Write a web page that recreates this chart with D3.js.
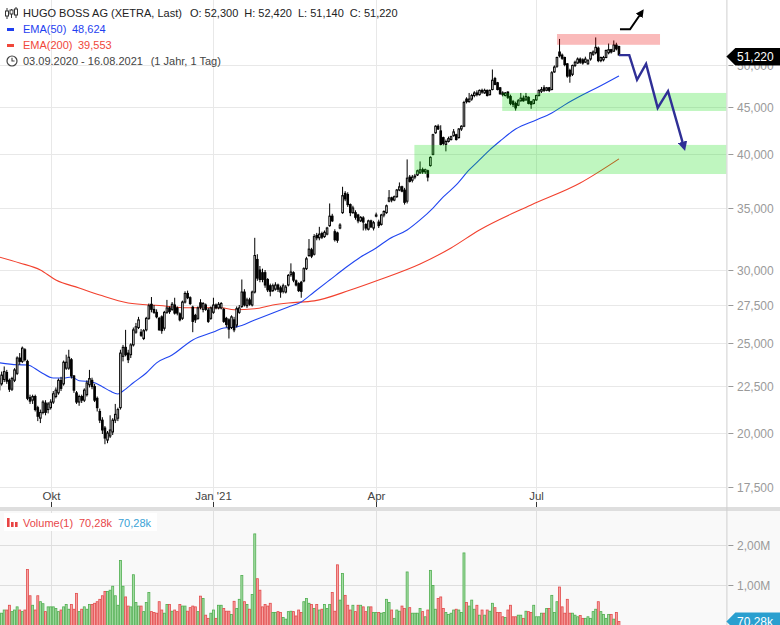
<!DOCTYPE html>
<html><head><meta charset="utf-8">
<script src="https://cdn.jsdelivr.net/npm/d3@7"></script>
<style>body{margin:0;background:#fff;overflow:hidden}svg{display:block;font-family:"Liberation Sans",Arial,sans-serif}</style>
</head><body><svg id="c" width="780" height="625"></svg>
<script>
// ---------- DATA ----------
const opens=[
22.26,22.60,22.85,23.25,22.80,22.30,22.80,23.20,24.10,23.90,
24.60,23.90,21.85,21.70,21.90,21.30,20.75,21.05,21.55,21.20,
21.30,21.60,21.90,22.10,22.80,22.60,23.50,23.50,24.00,23.05,
22.10,21.60,21.90,21.70,22.00,22.55,22.80,22.45,21.80,21.10,
20.65,20.25,19.65,19.85,20.05,20.65,20.75,21.30,24.20,24.75,
24.40,24.30,24.90,25.70,26.00,25.70,25.30,25.85,26.60,27.55,
27.20,27.00,26.60,26.70,25.95,27.00,27.30,27.20,27.50,27.30,
26.90,26.60,27.70,28.30,28.00,27.35,26.80,26.60,27.65,27.20,
27.50,27.15,26.60,27.00,27.50,27.30,27.30,27.20,26.60,26.50,
26.00,26.50,26.15,27.00,27.40,28.40,27.45,27.85,27.50,28.40,
30.80,30.00,29.80,29.80,29.30,28.85,28.50,28.60,28.90,28.70,
28.45,28.40,28.90,29.65,29.80,29.20,29.00,29.10,29.20,30.10,
31.10,31.55,31.20,32.70,32.50,32.85,32.60,32.80,33.50,34.30,
33.00,32.90,33.30,34.60,36.30,36.20,35.30,34.60,34.60,34.40,
33.90,34.15,33.60,33.20,33.90,33.30,34.30,33.80,33.60,34.40,
34.60,35.60,35.90,35.70,36.00,36.60,36.90,36.60,35.60,37.80,
37.50,37.80,38.00,38.20,38.50,38.30,38.40,38.90,40.00,42.20,
42.90,42.40,41.70,41.00,41.30,41.50,41.90,42.00,41.70,42.60,
42.90,45.90,45.60,45.90,46.30,46.60,46.40,46.90,46.60,46.90,
46.40,47.00,48.30,47.80,47.20,46.60,46.30,46.70,46.20,45.60,
45.40,45.20,45.70,46.00,45.80,46.10,45.60,45.40,45.80,46.30,
46.80,47.20,46.90,47.20,47.00,49.10,49.80,51.60,51.20,50.90,
50.10,49.30,48.80,49.90,50.20,50.70,50.60,50.30,50.10,50.70,
51.30,51.50,52.10,50.50,50.60,50.90,51.50,51.90,51.70,52.50,52.30];
const highs=[
23.00,23.30,23.60,23.40,22.90,23.00,23.50,24.20,24.40,24.80,
24.70,24.00,22.00,22.00,22.00,21.40,21.20,21.70,21.70,21.60,
21.75,22.20,22.40,22.90,23.00,23.95,24.30,24.60,24.10,23.10,
22.20,22.00,22.00,22.35,22.80,23.40,22.95,22.60,21.90,21.25,
20.80,20.35,20.10,20.90,20.75,21.50,21.30,24.60,24.90,25.85,
24.60,25.00,26.00,26.30,26.70,25.90,25.90,26.70,27.60,28.05,
27.50,27.20,26.70,26.80,27.10,27.85,27.40,27.70,28.00,27.40,
27.00,27.80,28.45,28.50,28.10,27.45,26.90,27.40,27.90,27.70,
27.60,27.30,27.40,28.00,27.60,27.70,27.70,27.30,26.70,26.60,
26.80,26.70,27.40,27.50,29.30,28.60,28.00,28.00,28.50,32.50,
31.20,30.30,30.10,30.00,29.40,29.00,29.00,29.10,29.00,28.85,
29.00,28.90,29.70,30.50,29.90,29.30,29.10,29.20,30.20,31.00,
32.40,31.70,32.80,32.90,33.40,33.00,33.10,33.40,35.40,34.50,
33.20,33.00,33.70,36.90,36.50,36.40,35.40,35.20,34.80,34.50,
34.30,34.30,33.70,34.00,34.00,33.90,34.60,34.00,34.50,34.80,
35.30,36.60,36.00,36.10,36.70,37.30,37.00,36.80,39.50,38.00,
38.00,38.10,38.50,39.30,38.70,38.60,38.50,39.80,42.10,43.00,
43.10,43.00,41.80,41.50,41.80,41.90,42.60,42.10,42.70,43.00,
45.70,46.10,46.60,46.50,46.80,46.90,47.00,47.10,47.10,47.00,
47.00,49.40,48.50,47.90,47.30,46.80,46.70,46.80,46.40,45.80,
45.60,45.90,46.60,46.30,46.60,46.20,45.70,45.90,46.40,47.00,
47.30,47.50,47.30,47.30,49.20,49.90,51.00,53.30,51.40,51.00,
50.20,49.50,50.00,50.50,50.90,50.90,50.80,51.00,50.70,51.60,
51.80,53.50,52.30,51.00,51.10,51.90,52.70,52.00,53.10,52.80,52.42];
const lows=[
22.10,22.50,22.70,22.60,22.15,22.20,22.70,23.10,23.70,23.80,
23.90,21.70,21.50,21.50,21.10,20.60,20.50,20.95,20.90,21.00,
21.20,21.50,21.80,22.00,22.20,22.50,23.40,23.40,22.90,22.10,
21.50,21.40,21.55,21.60,21.90,22.40,22.30,21.60,21.10,20.50,
19.95,19.45,19.50,19.75,19.90,20.50,20.60,21.20,23.90,24.20,
23.80,24.10,24.80,25.60,25.90,25.40,25.20,25.75,26.50,27.00,
26.90,26.60,25.80,25.60,25.80,26.90,26.90,27.10,26.85,26.80,
26.40,26.50,27.60,27.90,27.50,25.70,26.30,26.50,27.20,27.00,
27.10,26.30,26.50,26.90,27.20,27.20,27.20,26.30,26.00,25.30,
25.90,25.70,26.00,26.90,27.30,27.40,27.30,27.45,27.40,28.30,
29.20,29.10,29.10,28.70,28.40,28.10,28.40,28.50,28.40,28.00,
28.30,28.30,28.80,29.50,29.10,28.80,28.40,28.00,29.10,30.00,
31.00,30.90,31.10,32.30,32.30,32.40,32.50,32.70,33.40,33.80,
32.20,32.10,33.20,34.50,35.60,35.10,34.30,34.50,34.00,33.70,
33.80,33.10,33.10,33.10,33.30,33.10,34.20,33.30,33.50,34.20,
34.50,35.50,35.50,35.60,35.90,36.50,36.40,35.30,35.40,37.30,
37.30,37.60,37.90,38.10,38.10,38.10,37.40,38.80,39.90,42.10,
42.50,40.90,40.90,40.30,41.20,41.40,41.80,41.40,41.60,42.40,
42.80,45.40,45.50,45.70,46.10,46.20,46.30,46.50,46.50,46.20,
46.30,46.90,47.50,46.90,46.40,46.20,46.20,45.90,45.20,45.00,
44.60,45.10,45.60,45.60,45.70,45.30,44.80,45.30,45.70,46.20,
46.60,46.70,46.80,46.70,46.90,49.00,49.60,50.90,50.60,49.80,
48.40,47.80,48.60,49.70,50.10,50.10,50.00,50.20,50.00,50.50,
51.10,51.30,50.30,50.30,50.40,50.80,51.30,51.40,51.60,51.80,51.14];
const closes=[
22.90,23.10,23.30,22.75,22.30,22.90,23.40,24.10,23.90,24.70,
24.00,21.80,21.65,21.90,21.20,20.85,21.05,21.60,21.05,21.50,
21.60,22.05,22.25,22.80,22.35,23.85,23.85,24.15,23.05,22.25,
21.60,21.90,21.70,22.25,22.65,22.90,22.45,21.70,21.30,20.65,
20.15,19.75,20.00,20.15,20.65,20.95,21.20,24.40,24.75,24.30,
24.00,24.90,25.85,26.05,26.50,25.50,25.80,26.60,27.45,27.20,
27.00,26.70,25.85,25.80,27.00,27.30,27.05,27.55,26.95,26.95,
26.50,27.70,28.30,28.00,27.60,26.40,26.50,27.30,27.35,27.60,
27.20,26.40,27.30,27.50,27.30,27.55,27.60,26.40,26.20,25.90,
26.70,25.85,27.25,27.30,28.40,27.50,27.85,27.55,28.40,31.10,
29.40,29.30,29.30,28.90,28.55,28.45,28.85,28.90,28.60,28.40,
28.85,28.75,29.60,29.85,29.25,28.90,28.50,28.45,30.10,30.85,
31.60,31.05,32.60,32.50,32.80,32.55,32.95,33.30,34.30,33.90,
32.35,32.30,33.55,36.10,35.80,35.30,34.60,35.00,34.20,33.90,
34.20,33.80,33.30,33.90,33.40,33.75,34.40,33.50,34.40,34.70,
35.20,35.90,35.70,36.00,36.60,36.90,36.50,35.50,37.70,37.40,
37.80,37.90,38.40,38.50,38.30,38.50,37.80,39.70,42.00,42.90,
42.60,41.00,41.10,41.30,41.60,41.80,42.30,41.50,42.60,42.90,
45.50,45.60,45.90,46.30,46.60,46.40,46.90,46.70,46.90,46.30,
46.90,48.10,47.60,47.00,46.50,46.40,46.60,46.10,45.40,45.30,
44.90,45.70,46.00,45.70,46.20,45.40,45.30,45.80,46.30,46.90,
47.00,46.90,47.20,46.90,49.00,49.70,50.90,51.10,50.80,50.00,
48.60,48.60,49.90,50.30,50.70,50.30,50.20,50.70,50.50,51.50,
51.60,52.20,50.50,50.90,50.90,51.80,51.90,51.60,52.50,52.00,51.22];
// volume in millions
const volumes=[
0.28,0.28,0.36,0.36,0.48,0.32,0.36,0.44,0.36,0.32,
0.36,1.38,0.72,0.48,0.36,0.72,0.57,0.52,0.32,0.44,
0.44,0.44,0.40,0.32,0.36,0.44,0.50,0.38,0.50,0.38,
0.78,0.32,0.38,0.44,0.38,0.50,0.50,0.53,0.57,0.63,
0.72,0.83,0.83,0.86,0.96,0.72,0.48,1.61,0.96,0.69,
0.46,0.44,1.25,0.55,0.46,0.46,0.32,0.55,0.80,0.32,
0.30,0.28,0.57,0.36,0.28,0.50,0.50,0.33,0.36,0.32,
0.50,0.46,0.46,0.33,0.42,0.46,0.44,0.32,0.71,0.65,
0.23,0.15,0.28,0.36,0.15,0.48,0.48,0.40,0.33,0.33,
0.25,0.58,0.40,0.63,1.23,0.57,0.50,0.38,0.75,2.28,
1.15,0.86,0.44,0.50,0.46,0.53,0.30,0.30,0.32,0.30,
0.17,0.13,0.32,0.33,0.32,0.21,0.36,0.30,0.57,0.65,
0.53,0.50,0.40,0.50,0.36,0.38,0.50,0.40,0.50,0.80,
0.33,1.50,0.61,1.28,0.73,0.48,0.36,0.48,0.32,0.48,
0.48,0.44,0.32,0.44,0.44,0.30,0.30,0.30,0.28,0.30,
0.63,0.55,0.36,0.15,0.36,0.33,0.46,0.40,1.32,0.42,
0.28,0.28,0.28,0.40,0.32,0.19,0.36,1.36,0.98,0.38,
0.65,0.69,0.40,0.30,0.25,0.28,0.36,0.38,0.36,0.30,
1.80,0.55,0.46,0.61,0.38,0.48,0.23,0.36,0.23,0.36,
0.33,0.53,0.42,0.30,0.30,0.19,0.17,0.36,0.48,0.19,
0.19,0.23,0.23,0.15,0.33,0.32,0.30,0.48,0.19,0.19,
0.28,0.28,0.40,0.40,0.73,0.30,0.57,0.94,0.44,0.28,
0.63,0.28,0.28,0.23,0.19,0.22,0.15,0.15,0.19,0.15,
0.32,0.38,0.57,0.32,0.25,0.15,0.25,0.25,0.13,0.30,0.07028];
// EMA readings (trading-day index, value)
const ema50Idx=[0,7,11,16,21,25,28,31,36,40,43,46,48,52,57,61,67,75,83,87,92,99,106,112,117,122,128,134,140,146,151,158,163,168,172,177,182,186,190,194,200,208,214,219,226,232,240];
const ema50Val=[23.82,23.70,23.69,23.28,22.93,22.93,22.99,22.78,22.71,22.44,22.20,22.04,22.20,22.66,23.22,23.81,24.28,25.21,25.71,25.97,26.04,26.49,26.96,27.36,27.71,28.40,29.26,30.15,30.99,31.69,32.41,33.14,33.98,35.00,35.98,37.07,38.48,39.45,40.45,41.35,42.60,43.58,44.34,45.24,46.38,47.30,48.624];
const ema200Idx=[0,8,16,22,31,39,50,62,73,86,91,99,106,112,122,136,147,163,175,186,206,225,240];
const ema200Val=[30.99,30.53,30.00,29.26,28.69,28.19,27.64,27.46,27.31,27.31,27.18,27.24,27.50,27.64,27.78,28.54,29.26,30.45,31.69,33.14,35.27,37.25,39.553];
const priceTicks=[17.5,20,22.5,25,27.5,30,35,40,45,50];
const volTicks=[1,2];
const monthLabels=["Okt","Jan '21","Apr","Jul"];
const monthIdx=[20,83,146,208];
// drawn annotations (index, price)
const forecastIdx=[240,244,247,250.5,255,259,265.2];
const forecastVal=[51.2,51.2,48.15,50.1,44.9,46.8,40.7];
const upArrowIdx=[240.4,244.3,248.9];
const upArrowVal=[54.6,54.6,57.0];
const zoneRed={i0:216,i1:255.9,lo:52.53,hi:53.96};
const zonesGreen=[{i0:194.8,lo:44.56,hi:46.6},{i0:160.8,lo:38.09,hi:40.95}];

// ---------- SCALES ----------
const svg=d3.select("#c");
const PR=726.4, MAINB=507, VT=511;
const x=d3.scaleLinear().domain([0.37,281.6]).range([0,PR]);
const y=d3.scaleLog().domain([20,45]).range([433,107]);
const yv=d3.scaleLinear().domain([0,2]).range([624.3,545]);
const loc=d3.formatLocale({decimal:",",thousands:".",grouping:[3],currency:["","€"]});
const f3=loc.format(".3f"), f2=loc.format(".2f");
const n=closes.length, idx=d3.range(n), last=n-1;

const defs=svg.append("defs");
defs.append("clipPath").attr("id","cm").append("rect").attr("x",0).attr("y",0).attr("width",PR).attr("height",MAINB);
defs.append("clipPath").attr("id","cv").append("rect").attr("x",0).attr("y",VT).attr("width",PR).attr("height",625-VT);
function marker(id,col){defs.append("marker").attr("id",id).attr("viewBox","0 0 10 10").attr("refX",6).attr("refY",5)
 .attr("markerWidth",4).attr("markerHeight",4).attr("orient","auto").append("path").attr("d","M0,0L10,5L0,10z").attr("fill",col);}
marker("ab","#2f2f96");marker("ak","#000");

// backgrounds
svg.append("rect").attr("x",0).attr("y",0).attr("width",780).attr("height",625).attr("fill","#fff");
svg.append("rect").attr("x",0).attr("y",VT).attr("width",780).attr("height",625-VT).attr("fill","#f9f9f9");
svg.append("rect").attr("x",0).attr("y",MAINB).attr("width",780).attr("height",VT-MAINB).attr("fill","#dedede");

// grids
const g=svg.append("g");
g.selectAll("line.hg").data(priceTicks).join("line").attr("x1",0).attr("x2",PR)
 .attr("y1",d=>Math.round(y(d))+0.5).attr("y2",d=>Math.round(y(d))+0.5).attr("stroke","#e8e8e8");
g.selectAll("line.vg").data(monthIdx).join("line").attr("x1",d=>Math.round(x(d))+0.5).attr("x2",d=>Math.round(x(d))+0.5)
 .attr("y1",0).attr("y2",MAINB).attr("stroke","#e8e8e8");
g.selectAll("line.vg2").data(monthIdx).join("line").attr("x1",d=>Math.round(x(d))+0.5).attr("x2",d=>Math.round(x(d))+0.5)
 .attr("y1",VT).attr("y2",625).attr("stroke","#e0e0e0");
g.selectAll("line.vh").data(volTicks).join("line").attr("x1",0).attr("x2",PR)
 .attr("y1",d=>Math.round(yv(d))+0.5).attr("y2",d=>Math.round(yv(d))+0.5).attr("stroke","#dedede");

// axis line
svg.append("line").attr("x1",PR+0.5).attr("x2",PR+0.5).attr("y1",0).attr("y2",625).attr("stroke","#cfcfcf");

// ---------- MAIN PANE ----------
const main=svg.append("g").attr("clip-path","url(#cm)");
const line=d3.line().curve(d3.curveMonotoneX);
main.append("path").attr("d",line(ema200Idx.map((d,k)=>[x(d),y(ema200Val[k])]))).attr("fill","none").attr("stroke","#f2412e").attr("stroke-width",1.1);
main.append("path").attr("d",line(ema50Idx.map((d,k)=>[x(d),y(ema50Val[k])]))).attr("fill","none").attr("stroke","#2146f0").attr("stroke-width",1.1);

main.selectAll("line.wick").data(idx).join("line").attr("x1",i=>x(i)).attr("x2",i=>x(i))
 .attr("y1",i=>y(highs[i])).attr("y2",i=>y(lows[i])).attr("stroke","#000").attr("stroke-width",1);
main.selectAll("rect.body").data(idx).join("rect").attr("x",i=>x(i)-0.8).attr("width",1.6)
 .attr("y",i=>y(Math.max(opens[i],closes[i])))
 .attr("height",i=>Math.max(0.6,Math.abs(y(opens[i])-y(closes[i]))))
 .attr("fill",i=>closes[i]>=opens[i]?"#fff":"#000").attr("stroke","#000").attr("stroke-width",1);

// zones
main.append("rect").attr("x",x(zoneRed.i0)).attr("width",x(zoneRed.i1)-x(zoneRed.i0))
 .attr("y",y(zoneRed.hi)).attr("height",y(zoneRed.lo)-y(zoneRed.hi)).attr("fill","#ee0000").attr("fill-opacity",0.27);
main.selectAll("rect.zg").data(zonesGreen).join("rect").attr("x",d=>x(d.i0)).attr("width",d=>PR-x(d.i0))
 .attr("y",d=>y(d.hi)).attr("height",d=>y(d.lo)-y(d.hi)).attr("fill","#00dd00").attr("fill-opacity",0.25);

// annotations
svg.append("path").attr("d",d3.line()(forecastIdx.map((d,k)=>[x(d),y(forecastVal[k])])))
 .attr("fill","none").attr("stroke","#2f2f96").attr("stroke-width",2.4).attr("stroke-linejoin","miter").attr("marker-end","url(#ab)");
svg.append("path").attr("d",d3.line()(upArrowIdx.map((d,k)=>[x(d),y(upArrowVal[k])])))
 .attr("fill","none").attr("stroke","#000").attr("stroke-width",2).attr("marker-end","url(#ak)");

// ---------- AXES ----------
const ax=svg.append("g").attr("font-size",12).attr("fill","#9a9a9a");
priceTicks.forEach(v=>{
  const yy=Math.round(y(v))+0.5;
  ax.append("line").attr("x1",PR+2).attr("x2",PR+7).attr("y1",yy).attr("y2",yy).attr("stroke","#9a9a9a");
  ax.append("text").attr("x",737).attr("y",yy+4).text(f3(v));
});
volTicks.forEach(v=>{
  const yy=Math.round(yv(v))+0.5;
  ax.append("line").attr("x1",PR+2).attr("x2",PR+7).attr("y1",yy).attr("y2",yy).attr("stroke","#9a9a9a");
  ax.append("text").attr("x",737).attr("y",yy+4).text(f2(v)+"M");
});
const xa=svg.append("g").attr("font-size",11.5).attr("fill","#444").attr("text-anchor","middle");
monthIdx.forEach((d,k)=>{
  const xx=Math.round(x(d))+0.5;
  xa.append("line").attr("x1",xx).attr("x2",xx).attr("y1",502).attr("y2",507).attr("stroke","#333");
  xa.append("text").attr("x",xx).attr("y",500).text(monthLabels[k]);
});

// price badge (covers most of the 50,000 label as in the original)
const py=y(closes[last]);
svg.append("path").attr("d",`M${PR},${py+1.5}L${PR+9},${py-7}H780V${py+10.5}H${PR+9}Z`).attr("fill","#000");
svg.append("text").attr("x",737).attr("y",py+6).attr("font-size",12).attr("fill","#fff").text(f3(closes[last]));

// ---------- VOLUME ----------
const vol=svg.append("g").attr("clip-path","url(#cv)");
vol.selectAll("rect").data(idx).join("rect").attr("x",i=>x(i)-1).attr("width",2)
 .attr("y",i=>yv(volumes[i])).attr("height",i=>yv(0)-yv(volumes[i])+2)
 .attr("fill",i=>closes[i]>=opens[i]?"#a6dca6":"#f6a3a3")
 .attr("stroke",i=>closes[i]>=opens[i]?"#4fae4f":"#e24b4b").attr("stroke-width",0.8);
const vy=yv(volumes[last]);
svg.append("path").attr("d",`M${PR},${vy}L${PR+9},${vy-9}H780V${vy+9}H${PR+9}Z`).attr("fill","#2a9fcf");
svg.append("text").attr("x",737).attr("y",vy+4.5).attr("font-size",12).attr("fill","#fff").text(f2(volumes[last]*1000)+"k");

// volume legend
svg.append("rect").attr("x",4).attr("y",513).attr("width",153).attr("height",18).attr("fill","#fff");
[[7,518],[11,522],[15,522]].forEach(([a,b])=>svg.append("rect").attr("x",a).attr("y",b).attr("width",2.6).attr("height",527-b).attr("fill","#e84343"));
const vl=svg.append("g").attr("font-size",11);
vl.append("text").attr("x",23).attr("y",527).attr("fill","#e8474a").text("Volume(1)");
vl.append("text").attr("x",79).attr("y",527).attr("fill","#e8474a").text(f2(volumes[last]*1000)+"k");
vl.append("text").attr("x",118).attr("y",527).attr("fill","#3aa2d6").text(f2(volumes[last]*1000)+"k");

// ---------- LEGEND ----------
const lg=svg.append("g").attr("font-size",11);
[[7,8,19,11,16],[11.5,9,18,10,14],[16,7,18,9,15]].forEach(([cx,t,b,bt,bb])=>{
  lg.append("line").attr("x1",cx).attr("x2",cx).attr("y1",t).attr("y2",b).attr("stroke","#333");
  lg.append("rect").attr("x",cx-1.5).attr("y",bt).attr("width",3).attr("height",bb-bt).attr("fill","#fff").attr("stroke","#333");
});
const t1=lg.append("text").attr("x",23).attr("y",17.3).attr("fill","#222");
t1.append("tspan").text("HUGO BOSS AG (XETRA, Last)");
t1.append("tspan").attr("dx",8).text("O: "+f3(opens[last]));
t1.append("tspan").attr("dx",6).text("H: "+f3(highs[last]));
t1.append("tspan").attr("dx",6).text("L: "+f3(lows[last]));
t1.append("tspan").attr("dx",6).text("C: "+f3(closes[last]));
lg.append("rect").attr("x",7).attr("y",28).attr("width",7).attr("height",3).attr("fill","#1f3ff0");
lg.append("text").attr("x",23).attr("y",33.3).attr("fill","#1f3ff0").text("EMA(50)");
lg.append("text").attr("x",72).attr("y",33.3).attr("fill","#1f3ff0").text(f3(ema50Val[ema50Val.length-1]));
lg.append("rect").attr("x",7).attr("y",44).attr("width",7).attr("height",3).attr("fill","#f0473a");
lg.append("text").attr("x",23).attr("y",49.3).attr("fill","#f0473a").text("EMA(200)");
lg.append("text").attr("x",78).attr("y",49.3).attr("fill","#f0473a").text(f3(ema200Val[ema200Val.length-1]));
lg.append("circle").attr("cx",12).attr("cy",61).attr("r",5).attr("fill","none").attr("stroke","#444").attr("stroke-width",1.2);
lg.append("path").attr("d","M12,57.8V61H14.6").attr("fill","none").attr("stroke","#444").attr("stroke-width",1.1);
lg.append("text").attr("x",23).attr("y",65).attr("fill","#444").text("03.09.2020 - 16.08.2021");
lg.append("text").attr("x",150.7).attr("y",65).attr("fill","#444").text("(1 Jahr, 1 Tag)");
</script></body></html>
